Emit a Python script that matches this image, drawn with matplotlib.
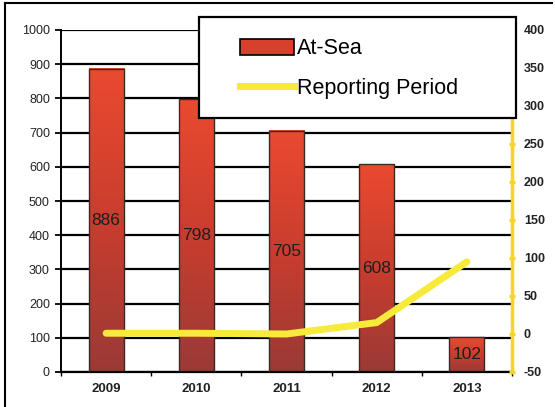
import matplotlib.pyplot as plt
import numpy as np
from matplotlib.patches import Rectangle, Patch
from matplotlib.lines import Line2D
from matplotlib.colors import LinearSegmentedColormap

plt.rcParams["font.family"] = ["Liberation Sans", "DejaVu Sans"]

years = ['2009', '2010', '2011', '2012', '2013']
at_sea = [886, 798, 705, 608, 102]
reporting = [1, 1, 0, 15, 95]

fig = plt.figure(figsize=(5.55, 4.07), dpi=100)
W, H = 555, 407
ax = fig.add_axes([61 / W, 1 - 372 / H, (512 - 61) / W, (372 - 30) / H])

x = np.arange(len(years))
bw = 0.39
red = LinearSegmentedColormap.from_list('bar', ['#9a3a36', '#c93d2e', '#ea4a30'])
grad = np.linspace(0, 1, 256).reshape(-1, 1)
for xi, v in zip(x, at_sea):
    ax.imshow(grad, extent=[xi - bw / 2, xi + bw / 2, 0, v], origin='lower',
              aspect='auto', cmap=red, zorder=2)
    ax.add_patch(Rectangle((xi - bw / 2, 0), bw, v, fill=False,
                           edgecolor='#3a2a26', lw=1.0, zorder=3))
    ax.text(xi, v / 2, str(v), ha='center', va='center', fontsize=12.5,
            color='#1e1e1e', zorder=4)

ax.set_xlim(-0.5, 4.5)
ax.set_ylim(0, 1000)
ax.set_yticks(range(0, 1001, 100))
ax.set_yticklabels([str(v) for v in range(0, 1001, 100)], fontsize=9,
                   color='#222222')
ax.set_xticks(x)
ax.set_xticklabels(years, fontsize=9.5, fontweight='bold', color='#222222')
ax.set_xticks(np.arange(-0.5, 5, 1), minor=True)
ax.tick_params(axis='x', which='major', length=0, pad=8)
ax.tick_params(axis='x', which='minor', length=3, width=1, color='black')
ax.tick_params(axis='y', length=4, width=1.3, color='black', pad=4)
ax.yaxis.grid(True, color='black', lw=1.6, zorder=1)
ax.set_axisbelow(True)
ax.spines['top'].set_visible(False)
ax.spines['right'].set_visible(False)
ax.spines['left'].set_linewidth(1.4)
ax.spines['bottom'].set_linewidth(1.6)

ax2 = ax.twinx()
ax2.plot(x, reporting, color='#f7ea3a', lw=5, solid_capstyle='round',
         solid_joinstyle='round', zorder=5)
ax2.set_ylim(-50, 400)
ax2.set_yticks(range(-50, 401, 50))
ax2.set_yticklabels([str(v) for v in range(-50, 401, 50)], fontsize=9,
                    fontweight='bold', color='#222222')
ax2.tick_params(axis='y', direction='inout', length=5, width=2.5,
                color='#f5d52a', pad=6)
for s in ['top', 'left', 'bottom']:
    ax2.spines[s].set_visible(False)
ax2.spines['right'].set_color('#f5d52a')
ax2.spines['right'].set_linewidth(2.5)

# legend box
fig.add_artist(Rectangle((199 / W, 1 - 118 / H), (516 - 199) / W, (118 - 17) / H,
                         transform=fig.transFigure, facecolor='white',
                         edgecolor='black', lw=1.6, zorder=4))
handles = [Patch(facecolor='#d8402e', edgecolor='black', lw=1.2),
           Line2D([], [], color='#f7ea3a', lw=5)]
fig.legend(handles, ['At-Sea', 'Reporting Period'], loc='upper left',
           bbox_to_anchor=(223 / W, 1 - 21 / H), frameon=False, fontsize=15.5,
           handlelength=2.5, handleheight=0.8, handletextpad=0.15,
           labelspacing=0.85, borderpad=0.3).set_zorder(6)

# outer frame (scan)
fig.add_artist(Line2D([5 / W, 552 / W], [1 - 3 / H, 1 - 3 / H],
                      transform=fig.transFigure, color='black', lw=1.5))
fig.add_artist(Line2D([5 / W, 5 / W], [0, 1 - 3 / H],
                      transform=fig.transFigure, color='black', lw=1.5))

plt.savefig('out.png', dpi=100)
